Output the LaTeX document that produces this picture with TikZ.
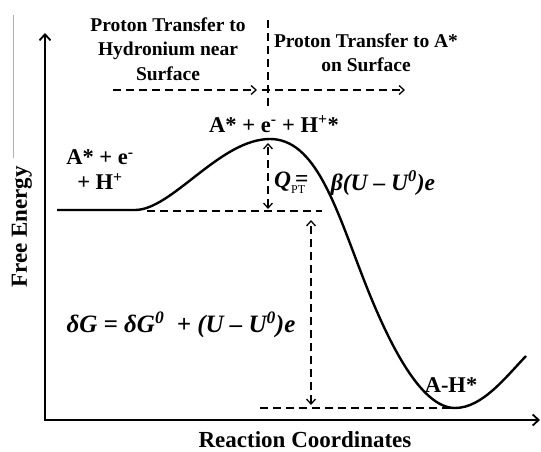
\documentclass[tikz,border=0pt]{standalone}
\usepackage{fontspec}
\setmainfont{Liberation Serif}
\usetikzlibrary{arrows.meta}
\begin{document}
\begin{tikzpicture}[x=1pt,y=-1pt,
  axis/.style={line width=2.4pt, line join=miter},
  curve/.style={line width=2.4pt},
  dline/.style={line width=1.7pt, dash pattern=on 8pt off 5pt},
  barb/.tip={Straight Barb[length=5pt,width=9pt,line width=1.3pt]},
  bigbarb/.tip={Straight Barb[length=6pt,width=11pt,line width=1.8pt]},
  hdr/.style={font=\bfseries\fontsize{19.5}{24.5}\selectfont, align=center, inner sep=0pt},
  lbl/.style={font=\bfseries\fontsize{22.5}{25}\selectfont, align=center, inner sep=0pt},
  mth/.style={font=\bfseries\itshape\fontsize{23.5}{25}\selectfont, inner sep=0pt},
  axlbl/.style={font=\bfseries\fontsize{23}{25}\selectfont, inner sep=0pt}
]
\useasboundingbox (0,0) rectangle (541,452);

% stray gray line
\coordinate (g1) at (13,15);
\coordinate (g2) at (13,158);
\draw[gray!60, line width=0.8pt] (g1) -- (g2);

% axes
\coordinate (O) at (45,420);
\coordinate (ytop) at (45,33);
\coordinate (xend) at (540,420);
\draw[axis, bigbarb-bigbarb] (ytop) -- (O) -- (xend);

% energy curve
\coordinate (c0) at (57,210);
\coordinate (c1) at (135,210);
\coordinate (peak) at (270,139);
\coordinate (infl) at (362,275);
\coordinate (min) at (455,408);
\coordinate (cend) at (526,356);
\draw[curve] (c0) -- (c1) .. controls (172,210) and (220,139) .. (peak)
  .. controls (315,139) and (335,205) .. (infl)
  .. controls (387,340) and (420,408) .. (min)
  .. controls (482,408) and (505,378) .. (cend);

% dashed guide lines
\coordinate (d1) at (268,20);
\coordinate (d2) at (268,110);
\draw[dline] (d1) -- (d2);
\coordinate (h1a) at (113,90);
\coordinate (h1b) at (257,90);
\coordinate (h2a) at (262,90);
\coordinate (h2b) at (405,90);
\draw[dline, -barb] (h1a) -- (h1b);
\draw[dline, -barb] (h2a) -- (h2b);

\coordinate (l1a) at (147,211);
\coordinate (l1b) at (322,211);
\draw[dline] (l1a) -- (l1b);
\coordinate (qa) at (268,143);
\coordinate (qb) at (268,209);
\draw[dline, barb-barb] (qb) -- (qa);

\coordinate (ga) at (311,220);
\coordinate (gb) at (311,405);
\draw[dline, barb-barb] (gb) -- (ga);
\coordinate (l2a) at (260,408);
\coordinate (l2b) at (458,408);
\draw[dline] (l2a) -- (l2b);

% headers
\node[hdr] (hleft) at (168,49) {Proton Transfer to\\Hydronium near\\Surface};
\node[hdr] (hright) at (366,53) {Proton Transfer to A*\\on Surface};

% state labels
\node[lbl] (ts) at (274,124) {A* + e\textsuperscript{-} + H\textsuperscript{+}*};
\node[lbl] (ini) at (100,170) {A* + e\textsuperscript{-}\\+ H\textsuperscript{+}\hspace{4pt}};
\node[lbl] (fin) at (451,385) {A-H*};

% formulas
\node[mth, anchor=west] (q) at (274,183) {Q\rlap{\upshape\raisebox{1pt}{\,=}}\raisebox{-6pt}{\upshape\mdseries\fontsize{12}{12}\selectfont PT}};
\node[mth] (beta) at (383,183) {β(U – U\textsuperscript{0})e};
\node[mth, font=\bfseries\itshape\fontsize{25}{25}\selectfont] (dg) at (181,325) {δG = δG\textsuperscript{0}\ \ + (U – U\textsuperscript{0})e};

% axis labels
\node[axlbl, rotate=90] (ylab) at (22,227) {Free Energy};
\node[axlbl] (xlab) at (305,440) {Reaction Coordinates};
\end{tikzpicture}
\end{document}
